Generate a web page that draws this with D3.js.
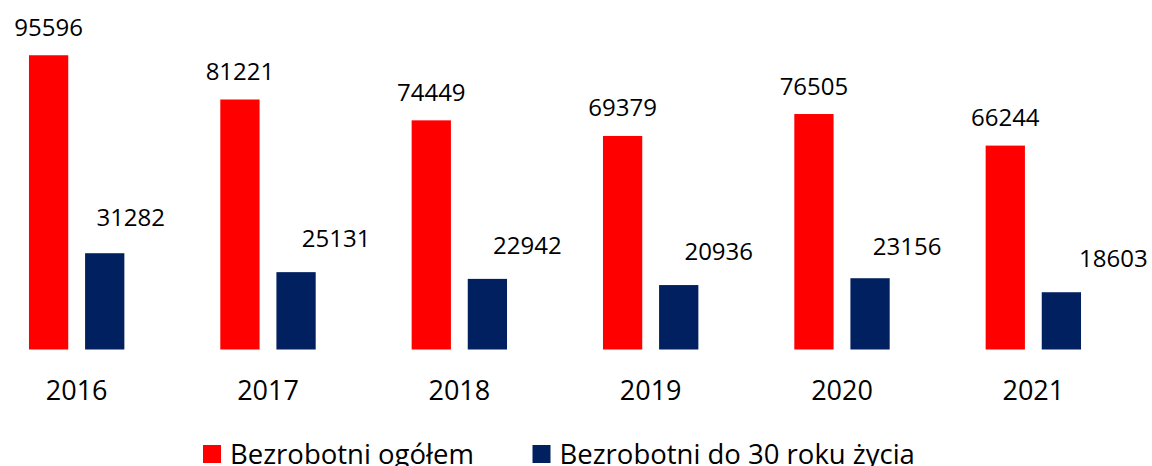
<!DOCTYPE html>
<html>
<head>
<meta charset="utf-8">
<script src="https://cdn.jsdelivr.net/npm/d3@7"></script>
<style>
  body { margin: 0; background: #fff; }
  text { font-family: "Open Sans", sans-serif; fill: #000; }
</style>
</head>
<body>
<div id="chart-area"></div>
<script>
// data
var years = ["2016", "2017", "2018", "2019", "2020", "2021"];
var ogolem = [95596, 81221, 74449, 69379, 76505, 66244];
var do30 = [31282, 25131, 22942, 20936, 23156, 18603];
var seriesNames = ["Bezrobotni ogółem", "Bezrobotni do 30 roku życia"];
var colors = ["#ff0000", "#002060"];

// hand-placed label nudges for the navy series (as in the original)
var navyDx = [26, 40, 40, 40, 37, 52];
var navyDy = [-2.5, 0, 0, 0, 1.8, -0.5];

var width = 1152, height = 466;
var base = 349.5;

var svg = d3.select("#chart-area").append("svg")
    .attr("width", width)
    .attr("height", height);

var x = d3.scaleBand().domain(years).range([-19, 1129]).padding(0);
var xs = d3.scaleBand().domain([0, 1]).range([0, x.bandwidth()])
    .paddingInner(0.3).paddingOuter(0.855);
var y = d3.scaleLinear().domain([0, 100000]).range([base, base - 307.8]);

var rows = years.map((yr, i) => {
    return { year: yr, i: i, vals: [ogolem[i], do30[i]] };
});

var groups = svg.selectAll("g.year")
    .data(rows)
    .enter().append("g")
    .attr("class", "year")
    .attr("transform", (d) => { return "translate(" + x(d.year) + ",0)"; });

groups.selectAll("rect")
    .data((d) => { return d.vals.map((v, s) => { return { s: s, v: v }; }); })
    .enter().append("rect")
    .attr("x", (d) => { return xs(d.s); })
    .attr("width", xs.bandwidth())
    .attr("y", (d) => { return y(d.v); })
    .attr("height", (d) => { return base - y(d.v); })
    .attr("fill", (d) => { return colors[d.s]; });

// red labels
groups.append("text")
    .attr("x", xs(0) + xs.bandwidth() / 2)
    .attr("y", (d) => { return y(d.vals[0]) - 19.5; })
    .attr("text-anchor", "middle")
    .attr("font-size", "24px")
    .text((d) => { return d.vals[0]; });

// navy labels
groups.append("text")
    .attr("x", (d) => { return xs(1) + xs.bandwidth() / 2 + navyDx[d.i]; })
    .attr("y", (d) => { return y(d.vals[1]) - 25 + navyDy[d.i]; })
    .attr("text-anchor", "middle")
    .attr("font-size", "24px")
    .text((d) => { return d.vals[1]; });

// year axis
var xAxis = d3.axisBottom(x).tickSize(0).tickPadding(0);
var axisG = svg.append("g")
    .attr("transform", "translate(0," + base + ")")
    .call(xAxis);
axisG.select(".domain").remove();
axisG.attr("font-family", null).attr("font-size", null);
axisG.selectAll("text")
    .attr("dy", null)
    .attr("y", 50.5)
    .attr("font-size", "27px")
    .style("fill", "#000");

// legend
var legendX = [203, 532.5];
var legend = svg.selectAll("g.legend")
    .data(seriesNames)
    .enter().append("g")
    .attr("class", "legend")
    .attr("transform", (d, i) => { return "translate(" + legendX[i] + ",445)"; });
legend.append("rect")
    .attr("width", 18)
    .attr("height", 18)
    .attr("fill", (d, i) => { return colors[i]; });
legend.append("text")
    .attr("x", 27)
    .attr("y", 19)
    .attr("font-size", "27.5px")
    .text((d) => { return d; });
</script>
</body>
</html>
